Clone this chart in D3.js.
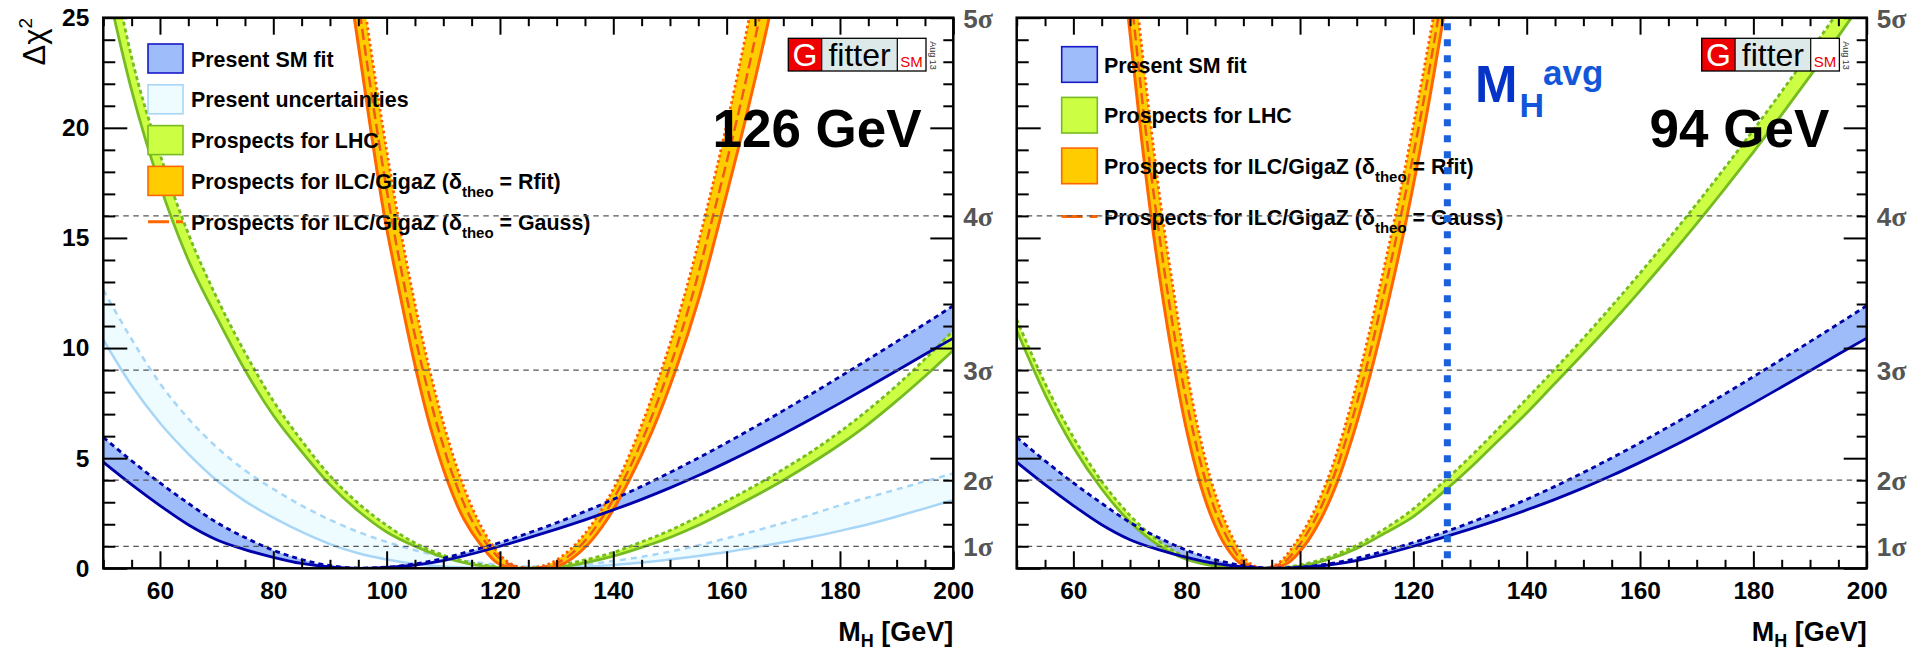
<!DOCTYPE html>
<html><head><meta charset="utf-8">
<script src="https://cdn.jsdelivr.net/npm/d3@7"></script>
<style>
html,body{margin:0;padding:0;background:#fff;}
svg{display:block;}
text{font-family:"Liberation Sans",Arial,Helvetica,sans-serif;}
</style></head><body>
<svg id="chart" width="1915" height="651"></svg>
<script>
// ---------------- DATA ----------------
const massGrid = [50,55,60,65,70,75,80,85,90,95,100,105,110,115,120,125,130,135,140,145,150,155,160,165,170,175,180,185,190,195,200];

// Present SM fit (same in both panels)
const smFitLower = [4.82,3.8,2.85,1.98,1.3,0.85,0.5,0.22,0.06,0.0,0.04,0.15,0.35,0.65,1.0,1.38,1.78,2.2,2.65,3.13,3.65,4.21,4.81,5.44,6.1,6.79,7.5,8.23,8.97,9.72,10.45];
const smFitUpper = [5.95,4.88,3.88,2.95,2.08,1.4,0.82,0.4,0.12,0.01,0.05,0.2,0.45,0.8,1.17,1.6,2.07,2.58,3.13,3.72,4.35,5.01,5.7,6.42,7.16,7.92,8.7,9.49,10.29,11.1,11.92];

// Present uncertainties (126 GeV panel)
const presentUncLower = [10.38,8.3,6.6,5.2,4.0,3.05,2.3,1.65,1.1,0.68,0.4,0.2,0.08,0.02,0.0,0.0,0.02,0.07,0.15,0.26,0.4,0.56,0.74,0.95,1.18,1.42,1.7,2.0,2.35,2.72,3.1];
const presentUncUpper = [12.64,10.4,8.4,6.8,5.5,4.45,3.6,2.85,2.2,1.65,1.2,0.82,0.52,0.3,0.15,0.08,0.09,0.18,0.33,0.52,0.76,1.04,1.36,1.7,2.06,2.45,2.86,3.22,3.58,3.95,4.31];

// Prospects for LHC
const lhc126Lower = [27.2,21.7,17.4,14.0,11.4,9.0,6.95,5.3,3.8,2.6,1.65,1.0,0.5,0.18,0.03,0.0,0.05,0.25,0.55,0.95,1.4,1.95,2.6,3.28,4.0,4.78,5.62,6.55,7.6,8.72,9.9];
const lhc126Upper = [29.5,23.2,18.8,15.2,12.3,9.8,7.6,5.8,4.2,2.95,1.95,1.15,0.6,0.25,0.06,0.02,0.12,0.38,0.72,1.2,1.72,2.35,3.05,3.75,4.5,5.3,6.2,7.2,8.3,9.5,10.8];
const lhc94Lower = [10.8,7.9,5.5,3.6,2.1,1.05,0.4,0.1,0.0,0.0,0.1,0.4,0.9,1.6,2.35,3.4,4.55,5.8,7.05,8.4,9.75,11.15,12.6,14.1,15.65,17.25,18.9,20.6,22.35,24.15,26.0];
const lhc94Upper = [11.3,8.4,5.95,3.95,2.4,1.25,0.5,0.15,0.02,0.02,0.15,0.5,1.05,1.8,2.7,3.85,5.05,6.35,7.7,9.05,10.45,11.9,13.4,14.95,16.55,18.2,19.9,21.65,23.45,25.3,27.2];

// Prospects for ILC/GigaZ: mass positions (GeV) of each curve at these Δχ² levels
const chi2Levels = [0,0.25,1,2.25,4,6.25,9,12.25,16,20.25,25,30.25];
const ilc126RfitLowerLeft  = [122.5,119.5,116.8,113.6,110.7,107.9,105.2,102.5,99.6,97.0,94.3,91.6];
const ilc126RfitLowerRight = [128.0,131.5,135.2,139.0,142.8,146.9,151.0,155.1,159.0,163.2,167.5,171.6];
const ilc126RfitUpperLeft  = [124.4,121.6,118.8,116.0,113.2,110.4,107.6,104.8,102.0,99.2,96.4,93.6];
const ilc126RfitUpperRight = [125.3,129.1,133.0,136.9,140.8,144.6,148.5,152.4,156.2,160.1,164.0,167.9];
const ilc126GaussLeft      = [125.0,121.0,118.0,114.9,112.0,109.2,106.4,103.6,100.8,98.1,95.4,92.6];
const ilc126GaussRight     = [126.0,130.2,134.1,137.9,141.8,145.8,149.8,153.8,157.6,161.7,165.8,169.8];
const ilc94RfitLowerLeft   = [91.8,89.3,86.9,84.5,82.2,80.0,77.9,75.8,73.7,71.7,69.7,67.6];
const ilc94RfitLowerRight  = [95.2,97.9,100.7,103.7,106.7,109.6,112.6,115.7,118.9,122.1,125.3,128.5];
const ilc94RfitUpperLeft   = [93.0,91.0,88.9,86.6,84.3,82.1,80.0,77.9,75.7,73.6,71.5,69.4];
const ilc94RfitUpperRight  = [94.0,96.3,98.8,101.8,104.8,107.7,110.6,113.6,116.8,120.1,123.5,126.8];
const ilc94GaussLeft       = [93.5,90.2,88.0,85.6,83.3,81.1,78.9,76.8,74.7,72.6,70.6,68.5];
const ilc94GaussRight      = [93.5,97.0,99.7,102.7,105.7,108.6,111.6,114.6,117.8,121.1,124.4,127.6];

// axes / reference values
const xDomain = [50,200];
const yDomain = [0,25];
const xMajorTicks = [60,80,100,120,140,160,180,200];
const yMajorTicks = [0,5,10,15,20,25];
const sigmaValues = [1,4,9,16,25];
const sigmaLabels = ['1','2','3','4','5'];
const mhAvg = 126;
const mhAvgRange = [0.42,24.75];

const legend126 = [
  {kind:'sm', pre:'Present SM fit'},
  {kind:'unc', pre:'Present uncertainties'},
  {kind:'lhc', pre:'Prospects for LHC'},
  {kind:'ilc', pre:'Prospects for ILC/GigaZ (δ', sub:'theo', post:' = Rfit)'},
  {kind:'gauss', pre:'Prospects for ILC/GigaZ (δ', sub:'theo', post:' = Gauss)'}
];
const legend94 = [
  {kind:'sm', pre:'Present SM fit'},
  {kind:'lhc', pre:'Prospects for LHC'},
  {kind:'ilc', pre:'Prospects for ILC/GigaZ (δ', sub:'theo', post:' = Rfit)'},
  {kind:'gauss', pre:'Prospects for ILC/GigaZ (δ', sub:'theo', post:' = Gauss)'}
];

// ---------------- STYLE ----------------
const C = {
  smFill:'#9dbcf9', smLine:'#0000a8', smBox:'#1818c8',
  uncFill:'#eefcff', uncLine:'#a8d6f6', uncBox:'#a8d6f6',
  lhcFill:'#ccff44', lhcLine:'#77bb22',
  ilcFill:'#ffcc00', ilcLine:'#ff6600', ilcDot:'#ff5a00', gauss:'#f25a1a',
  grid:'#555', sigma:'#555', avg:'#1a62dc', avgM:'#0633c8', avgSub:'#1257da'
};

const svg = d3.select('#chart');
const L = {top:17.7, bottom:568.3, width:850};

const panels = [
  {left:103.3, lhcLo:lhc126Lower, lhcUp:lhc126Upper,
   ilc:{lowL:ilc126RfitLowerLeft, lowR:ilc126RfitLowerRight, upL:ilc126RfitUpperLeft, upR:ilc126RfitUpperRight, gL:ilc126GaussLeft, gR:ilc126GaussRight},
   showUnc:true, yLabels:true, massText:'126 GeV', massRight:921.7,
   legend:legend126, legY0:58.5, legDy:40.8, boxX:148, boxW:35, boxH:29, textX:191, logoX:788.3, avg:false},
  {left:1016.7, lhcLo:lhc94Lower, lhcUp:lhc94Upper,
   ilc:{lowL:ilc94RfitLowerLeft, lowR:ilc94RfitLowerRight, upL:ilc94RfitUpperLeft, upR:ilc94RfitUpperRight, gL:ilc94GaussLeft, gR:ilc94GaussRight},
   showUnc:false, yLabels:false, massText:'94 GeV', massRight:1829.3,
   legend:legend94, legY0:64.5, legDy:50.7, boxX:1061.7, boxW:35.6, boxH:35.6, textX:1104, logoX:1701.7, avg:true}
];

function branchPoints(leftArr, rightArr){
  const pts = [];
  for (let i = leftArr.length-1; i >= 0; i--) pts.push([leftArr[i], chi2Levels[i]]);
  for (let i = 0; i < rightArr.length; i++) {
    if (i === 0 && rightArr[0] === leftArr[0]) continue;
    pts.push([rightArr[i], chi2Levels[i]]);
  }
  return pts;
}

panels.forEach((p, pi) => {
  const x = d3.scaleLinear().domain(xDomain).range([p.left, p.left + L.width]);
  const y = d3.scaleLinear().domain(yDomain).range([L.bottom, L.top]);
  const right = p.left + L.width;

  const clipId = 'clip' + pi;
  svg.append('clipPath').attr('id', clipId).append('rect')
    .attr('x', p.left).attr('y', L.top).attr('width', L.width).attr('height', L.bottom - L.top);
  const g = svg.append('g').attr('clip-path', `url(#${clipId})`);

  const idx = massGrid.map((m, i) => i);
  const band = (lo, up) => d3.area().x(i => x(massGrid[i])).y0(i => y(lo[i])).y1(i => y(up[i])).curve(d3.curveMonotoneX)(idx);
  const curve = arr => d3.line().x(i => x(massGrid[i])).y(i => y(arr[i])).curve(d3.curveMonotoneX)(idx);
  const pline = d3.line().x(d => x(d[0])).y(d => y(d[1])).curve(d3.curveCatmullRom.alpha(0.5));

  const lowPts = branchPoints(p.ilc.lowL, p.ilc.lowR);
  const upPts = branchPoints(p.ilc.upL, p.ilc.upR);
  const gPts = branchPoints(p.ilc.gL, p.ilc.gR);

  // fills
  if (p.showUnc) g.append('path').attr('d', band(presentUncLower, presentUncUpper)).attr('fill', C.uncFill);
  g.append('path').attr('d', band(smFitLower, smFitUpper)).attr('fill', C.smFill);
  g.append('path').attr('d', band(p.lhcLo, p.lhcUp)).attr('fill', C.lhcFill);
  g.append('path').attr('d', pline(lowPts.concat(upPts.slice().reverse())) + 'Z').attr('fill', C.ilcFill);

  // lines
  if (p.showUnc) {
    g.append('path').attr('d', curve(presentUncLower)).attr('fill','none').attr('stroke', C.uncLine).attr('stroke-width', 2.5);
    g.append('path').attr('d', curve(presentUncUpper)).attr('fill','none').attr('stroke', C.uncLine).attr('stroke-width', 2.5).attr('stroke-dasharray','6,5');
  }
  g.append('path').attr('d', curve(p.lhcLo)).attr('fill','none').attr('stroke', C.lhcLine).attr('stroke-width', 2.8);
  g.append('path').attr('d', curve(p.lhcUp)).attr('fill','none').attr('stroke', C.lhcLine).attr('stroke-width', 2.8).attr('stroke-dasharray','4,3');
  g.append('path').attr('d', pline(lowPts)).attr('fill','none').attr('stroke', C.ilcLine).attr('stroke-width', 3);
  g.append('path').attr('d', pline(upPts)).attr('fill','none').attr('stroke', C.ilcDot).attr('stroke-width', 2.8).attr('stroke-dasharray','2.5,3');
  g.append('path').attr('d', pline(gPts)).attr('fill','none').attr('stroke', C.gauss).attr('stroke-width', 2.5).attr('stroke-dasharray','11,5');
  g.append('path').attr('d', curve(smFitLower)).attr('fill','none').attr('stroke', C.smLine).attr('stroke-width', 2.8);
  g.append('path').attr('d', curve(smFitUpper)).attr('fill','none').attr('stroke', C.smLine).attr('stroke-width', 2.8).attr('stroke-dasharray','5,4');

  // legend
  const lg = svg.append('g');
  p.legend.forEach((it, k) => {
    const cy = p.legY0 + k * p.legDy;
    if (it.kind === 'gauss') {
      lg.append('line').attr('x1', p.boxX).attr('x2', p.boxX + p.boxW).attr('y1', cy).attr('y2', cy)
        .attr('stroke', C.ilcLine).attr('stroke-width', 3).attr('stroke-dasharray', '21,7');
    } else {
      const fill = {sm:C.smFill, unc:C.uncFill, lhc:C.lhcFill, ilc:C.ilcFill}[it.kind];
      const stroke = {sm:C.smBox, unc:C.uncBox, lhc:C.lhcLine, ilc:C.ilcLine}[it.kind];
      lg.append('rect').attr('x', p.boxX).attr('y', cy - p.boxH/2).attr('width', p.boxW).attr('height', p.boxH)
        .attr('fill', fill).attr('stroke', stroke).attr('stroke-width', 1.6);
    }
    const t = lg.append('text').attr('x', p.textX).attr('y', cy + 8).attr('font-size', 21.4).attr('font-weight', 'bold').attr('fill', '#000');
    t.append('tspan').text(it.pre);
    if (it.sub) {
      t.append('tspan').attr('dy', 8).attr('font-size', 15).text(it.sub);
      t.append('tspan').attr('dy', -8).text(it.post);
    }
  });

  // sigma grid lines (drawn over curves and legend)
  sigmaValues.filter(v => v < yDomain[1]).forEach(v => {
    svg.append('line').attr('x1', p.left).attr('x2', right).attr('y1', y(v)).attr('y2', y(v))
      .attr('stroke', C.grid).attr('stroke-width', 1.3).attr('stroke-dasharray', '5.5,4.5');
  });

  // M_H avg dotted line
  if (p.avg) {
    svg.append('line').attr('x1', x(mhAvg)).attr('x2', x(mhAvg)).attr('y1', y(mhAvgRange[1])).attr('y2', y(mhAvgRange[0]))
      .attr('stroke', C.avg).attr('stroke-width', 7).attr('stroke-dasharray', '7,9');
    const at = svg.append('text').attr('x', 1475).attr('y', 101.5).attr('font-weight', 'bold');
    at.append('tspan').attr('font-size', 51).attr('fill', C.avgM).text('M');
    at.append('tspan').attr('font-size', 34).attr('fill', C.avgSub).attr('dy', 15).attr('dx', 2).text('H');
    at.append('tspan').attr('font-size', 35).attr('fill', C.avgSub).attr('x', 1543).attr('dy', -31.5).text('avg');
  }

  // axes
  const ax = svg.append('g');
  const styleAxis = sel => { sel.select('.domain').remove(); sel.selectAll('line').attr('stroke-width', 2); sel.selectAll('text').attr('font-size', 24.5).attr('font-weight', 'bold').attr('font-family', '"Liberation Sans",Arial,sans-serif'); };
  const xMinor = d3.range(xDomain[0], xDomain[1] + 1, 5).filter(v => !xMajorTicks.includes(v));
  const yMinor = d3.range(yDomain[0], yDomain[1] + 1, 1).filter(v => !yMajorTicks.includes(v));

  ax.append('g').attr('transform', `translate(0,${L.bottom})`)
    .call(d3.axisBottom(x).tickValues(xMajorTicks).tickSize(-17).tickPadding(13).tickFormat(d3.format('d'))).call(styleAxis);
  ax.append('g').attr('transform', `translate(0,${L.bottom})`)
    .call(d3.axisBottom(x).tickValues(xMinor).tickSize(-8.5).tickFormat('')).call(styleAxis);
  ax.append('g').attr('transform', `translate(0,${L.top})`)
    .call(d3.axisTop(x).tickValues(xMajorTicks).tickSize(-17).tickFormat('')).call(styleAxis);
  ax.append('g').attr('transform', `translate(0,${L.top})`)
    .call(d3.axisTop(x).tickValues(xMinor).tickSize(-8.5).tickFormat('')).call(styleAxis);
  ax.append('g').attr('transform', `translate(${p.left},0)`)
    .call(d3.axisLeft(y).tickValues(yMajorTicks).tickSize(-24).tickPadding(14).tickFormat(p.yLabels ? d3.format('d') : '')).call(styleAxis);
  ax.append('g').attr('transform', `translate(${p.left},0)`)
    .call(d3.axisLeft(y).tickValues(yMinor).tickSize(-12).tickFormat('')).call(styleAxis);
  ax.append('g').attr('transform', `translate(${right},0)`)
    .call(d3.axisRight(y).tickValues(yMajorTicks).tickSize(-23).tickFormat('')).call(styleAxis);
  ax.append('g').attr('transform', `translate(${right},0)`)
    .call(d3.axisRight(y).tickValues(yMinor).tickSize(-10).tickFormat('')).call(styleAxis);

  svg.append('rect').attr('x', p.left).attr('y', L.top).attr('width', L.width).attr('height', L.bottom - L.top)
    .attr('fill', 'none').attr('stroke', '#000').attr('stroke-width', 2.5);

  // sigma labels
  sigmaValues.forEach((v, k) => {
    const t = svg.append('text').attr('x', right + 10).attr('y', y(v) + 10).attr('fill', C.sigma).attr('font-size', 26).attr('font-weight', 'bold');
    t.append('tspan').text(sigmaLabels[k]);
    t.append('tspan').attr('font-family', '"Liberation Serif","DejaVu Serif",serif').attr('font-weight', 'bold').attr('font-size', 28).text('σ');
  });

  // x axis title
  const xt = svg.append('text').attr('x', right).attr('y', 641).attr('text-anchor', 'end').attr('font-size', 27).attr('font-weight', 'bold');
  xt.append('tspan').text('M');
  xt.append('tspan').attr('font-size', 18).attr('dy', 6).text('H');
  xt.append('tspan').attr('dy', -6).text(' [GeV]');

  // mass label
  svg.append('text').attr('x', p.massRight).attr('y', 147).attr('text-anchor', 'end')
    .attr('font-size', 53).attr('font-weight', 'bold').attr('fill', '#000').text(p.massText);

  // Gfitter logo
  const lgo = svg.append('g').attr('transform', `translate(${p.logoX},38.3)`);
  lgo.append('rect').attr('width', 33.4).attr('height', 32.7).attr('fill', '#ee0000');
  lgo.append('rect').attr('x', 33.4).attr('width', 75.6).attr('height', 32.7).attr('fill', '#dde9e9');
  lgo.append('rect').attr('x', 109).attr('width', 28.7).attr('height', 32.7).attr('fill', '#fff');
  lgo.append('rect').attr('width', 137.7).attr('height', 32.7).attr('fill', 'none').attr('stroke', '#000').attr('stroke-width', 1.3);
  lgo.append('line').attr('x1', 33.4).attr('x2', 33.4).attr('y1', 0).attr('y2', 32.7).attr('stroke', '#000').attr('stroke-width', 1.2);
  lgo.append('line').attr('x1', 109).attr('x2', 109).attr('y1', 0).attr('y2', 32.7).attr('stroke', '#000').attr('stroke-width', 1.2);
  lgo.append('text').attr('x', 16.7).attr('y', 27.5).attr('text-anchor', 'middle').attr('font-size', 32).attr('fill', '#fff').text('G');
  lgo.append('text').attr('x', 71.2).attr('y', 27.5).attr('text-anchor', 'middle').attr('font-size', 32).attr('fill', '#000').text('fitter');
  lgo.append('text').attr('x', 123.3).attr('y', 29).attr('text-anchor', 'middle').attr('font-size', 15).attr('fill', '#ee0000').text('SM');
  lgo.append('text').attr('transform', 'translate(141.5,3) rotate(90)').attr('font-size', 9).attr('fill', '#333').text('Aug 13');
});

// y axis title
const yt = svg.append('text').attr('transform', 'translate(45,18) rotate(-90)').attr('text-anchor', 'end')
  .attr('font-family', '"Liberation Serif","DejaVu Serif",serif').attr('font-size', 31);
yt.append('tspan').text('Δχ');
yt.append('tspan').attr('dy', -13).attr('font-size', 19).attr('font-family', '"Liberation Sans",Arial,sans-serif').text('2');
</script></body></html>
